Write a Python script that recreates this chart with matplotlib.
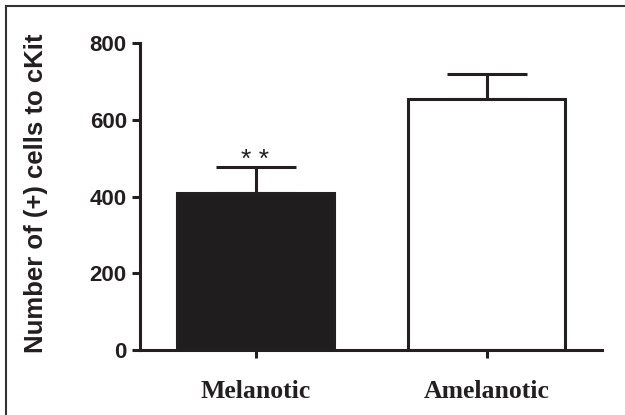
import matplotlib.pyplot as plt
from matplotlib.lines import Line2D

groups = ["Melanotic", "Amelanotic"]
means = [410, 654]
sem = [68, 67]
fills = ["#1f1d1e", "white"]

W, H = 625, 415
fig = plt.figure(figsize=(W / 100, H / 100), dpi=100)
ax = fig.add_axes([140 / W, 65 / H, 462 / W, 306.7 / H])

ink = "#231f20"
lw = 2.2
x = list(range(len(groups)))
ax.bar(x, means, width=0.68, color=fills, edgecolor=ink, linewidth=lw, zorder=2)
eb = ax.errorbar(x, means, yerr=[[0] * len(sem), sem], fmt="none", ecolor=ink,
                 elinewidth=lw, capsize=28.5, capthick=lw, zorder=1)
for cap in eb[1]:
    cap.set_solid_capstyle("round")

ax.set_xlim(-0.5, 1.5)
ax.set_ylim(0, 800)
ax.set_yticks([0, 200, 400, 600, 800])
ax.set_xticks(x)
ax.set_xticklabels(groups, family="Liberation Serif", fontweight="bold", fontsize=18.5, color=ink)
for lab in ax.get_yticklabels():
    lab.set_family("Liberation Sans")
    lab.set_fontweight("bold")
    lab.set_fontsize(16)
    lab.set_color(ink)

for s in ["top", "right"]:
    ax.spines[s].set_visible(False)
for s in ["left", "bottom"]:
    ax.spines[s].set_linewidth(lw)
    ax.spines[s].set_color(ink)
ax.tick_params(axis="y", length=6, width=lw, color=ink, pad=3.5)
ax.tick_params(axis="x", length=6, width=lw, color=ink, pad=15.5)

ax.text(0, 478, "* *", ha="center", va="baseline", fontsize=19,
        family="Liberation Sans", color=ink)

fig.text(36 / W, 1 - 193.5 / H, "Number of (+) cells to cKit", rotation=90,
         ha="center", va="center", family="Liberation Sans", fontweight="bold",
         fontsize=18.5, color=ink)

# frame around the figure (top and left edges only)
fig.add_artist(Line2D([6 / W, 1], [1 - 6 / H, 1 - 6 / H], color="#333333", lw=1.5,
                      transform=fig.transFigure))
fig.add_artist(Line2D([6 / W, 6 / W], [0, 1 - 6 / H], color="#333333", lw=1.5,
                      transform=fig.transFigure))

fig.savefig("out.png", dpi=100)
